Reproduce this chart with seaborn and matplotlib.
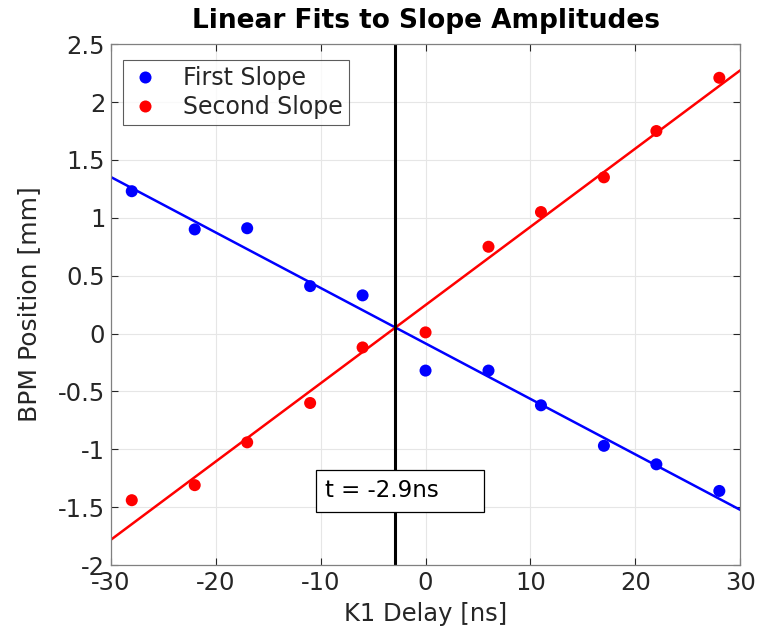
import numpy as np
import pandas as pd
import matplotlib
matplotlib.use("Agg")
import matplotlib.pyplot as plt
from matplotlib.patches import Rectangle
import seaborn as sns

delay = [-28, -22, -17, -11, -6, 0, 6, 11, 17, 22, 28]
first_slope = [1.23, 0.90, 0.91, 0.41, 0.33, -0.32, -0.32, -0.62, -0.97, -1.13, -1.36]
second_slope = [-1.44, -1.31, -0.94, -0.60, -0.12, 0.01, 0.75, 1.05, 1.35, 1.75, 2.21]
series_names = ["First Slope", "Second Slope"]
colors = ["#0000ff", "#ff0000"]
xticks = [-30, -20, -10, 0, 10, 20, 30]
yticks = [-2, -1.5, -1, -0.5, 0, 0.5, 1, 1.5, 2, 2.5]

sns.set_theme(style="white")
plt.rcParams['font.family'] = ['DejaVu Sans']
plt.rcParams['axes.unicode_minus'] = False

df = pd.DataFrame({
    "delay": delay * 2,
    "pos": first_slope + second_slope,
    "series": [series_names[0]] * len(delay) + [series_names[1]] * len(delay),
})

fig = plt.figure(figsize=(7.64, 6.32), dpi=100)
ax = fig.add_axes([0.145, 0.106, 0.824, 0.824])

xfit = np.array([-30, 30])
fits = []
for name, ys, c in zip(series_names, [first_slope, second_slope], colors):
    p = np.polyfit(delay, ys, 1)
    fits.append(p)
    sns.lineplot(x=xfit, y=np.polyval(p, xfit), color=c, lw=1.8, ax=ax, legend=False, zorder=2)

sns.scatterplot(data=df, x="delay", y="pos", hue="series", palette=colors,
                s=75, edgecolor="none", ax=ax, zorder=3)

t = (fits[1][1] - fits[0][1]) / (fits[0][0] - fits[1][0])
ax.axvline(t, color="black", lw=2.2, zorder=2.5)

ax.set_xlim(-30, 30)
ax.set_ylim(-2, 2.5)
ax.set_xticks(xticks)
ax.set_yticks(yticks)
ax.set_xticklabels([f"{v:g}" for v in xticks])
ax.set_yticklabels([f"{v:g}" for v in yticks])
ax.grid(True, color="#e6e6e6", lw=0.8)
ax.tick_params(direction="in", length=5, labelsize=17.5, colors="#262626",
               top=True, right=True, bottom=True, left=True, width=0.8, pad=4)
for s in ax.spines.values():
    s.set_color("#808080")
    s.set_linewidth(0.9)
ax.set_xlabel("K1 Delay [ns]", fontsize=17.5, color="#262626", labelpad=5)
ax.set_ylabel("BPM Position [mm]", fontsize=18, color="#262626", labelpad=12)
ax.set_title("Linear Fits to Slope Amplitudes", fontsize=19, fontweight="bold",
             color="black", pad=12)

# annotation box
ax.add_patch(Rectangle((-10.44, -1.54), 16.02, 0.36, fc="white", ec="black",
                       lw=0.9, zorder=5))
ax.text(-9.6, -1.36, f"t = {t:.1f}ns", fontsize=16.5, ha="left", va="center",
        color="black", zorder=6)

leg = ax.legend(loc="upper left", bbox_to_anchor=(0.019, 0.969), fontsize=17,
                frameon=True, fancybox=False, edgecolor="#333333",
                borderpad=0.25, labelspacing=0.2, handletextpad=0.9,
                borderaxespad=0, markerscale=1.0, handlelength=1.4)
leg.get_frame().set_linewidth(0.8)
for txt in leg.get_texts():
    txt.set_color("#262626")

fig.savefig("out.png", dpi=100)
